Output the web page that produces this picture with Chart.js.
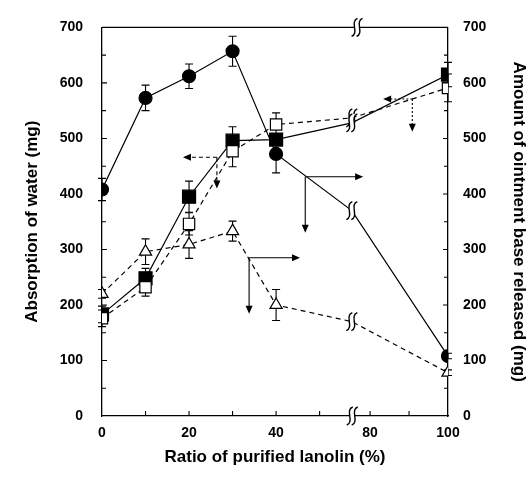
<!DOCTYPE html>
<html>
<head>
<meta charset="utf-8">
<script src="https://cdn.jsdelivr.net/npm/chart.js@4.4.0/dist/chart.umd.min.js"></script>
<style>
  html, body { margin: 0; padding: 0; background: #fff; }
</style>
</head>
<body>
<canvas id="myChart" width="529" height="483"></canvas>
<script>
// ratio of purified lanolin (%)
const pct = [0, 10, 20, 30, 40, 100];

// absorption of water (mg) - left axis
const filledSquare = [183, 248, 395, 496, 498, 615];
const filledSquareErr = [15, 18, 28, 25, 10, 22];
const openSquare = [176, 232, 346, 477, 525, 591];
const openSquareErr = [15, 16, 20, 28, 21, 25];

// amount of ointment base released (mg) - right axis
const filledCircle = [408, 573, 612, 657, 472, 108];
const filledCircleErr = [20, 23, 22, 27, 34, 5];
const openTriangle = [220, 296, 309, 333, 200, 78];
const openTriangleErr = [8, 23, 25, 18, 28, 5];

// where each line crosses the broken part of the x axis
const breakLevel = { circle: 370, filledSq: 528, openSq: 537, triangle: 170 };

const xTickPct = [0, 20, 40, 80, 100];
const xMinorPct = [10, 20, 30, 40, 50, 80, 90];
const yTicks = [0, 100, 200, 300, 400, 500, 600, 700];

// broken x axis: 0-50 linear, then 80-100 squeezed after the break
const axisOf80 = 61.6;
const axisMax = 79.5;
const breakAt = 57.4;
function toAxis(p) {
  return p <= 50 ? p : axisOf80 + (p - 80) * (axisMax - axisOf80) / 20;
}

function makePoints(values, errs, brk) {
  let pts = [];
  for (let i = 0; i < pct.length; i++) {
    if (pct[i] >= 80 && brk !== undefined) {
      pts.push({ x: breakAt, y: brk, brk: true });
      brk = undefined;
    }
    pts.push({ x: toAxis(pct[i]), y: values[i], err: errs[i] });
  }
  return pts;
}

const boldFont = (size) => ({ family: "'Liberation Sans', Arial, sans-serif", weight: "bold", size: size });

function squiggle(ctx, cx, cy) {
  const curve = (x, rev) => {
    if (!rev) {
      ctx.moveTo(x + 3, cy - 9);
      ctx.bezierCurveTo(x - 5, cy - 6, x + 5, cy + 6, x - 3, cy + 9);
    } else {
      ctx.lineTo(x - 3, cy + 9);
      ctx.bezierCurveTo(x + 5, cy + 6, x - 5, cy - 6, x + 3, cy - 9);
    }
  };
  ctx.save();
  ctx.fillStyle = "#fff";
  ctx.beginPath();
  curve(cx - 2.5, false);
  curve(cx + 2.5, true);
  ctx.closePath();
  ctx.fill();
  ctx.strokeStyle = "#000";
  ctx.lineWidth = 1.4;
  ctx.setLineDash([]);
  ctx.beginPath();
  curve(cx - 2.5, false);
  ctx.stroke();
  ctx.beginPath();
  curve(cx + 2.5, false);
  ctx.stroke();
  ctx.restore();
}

// annotation arrows: junction (x, y), horizontal arrow to hx, vertical arrow down to vy
const arrows = [
  { x: 26.4, y: 466, hx: 18.6, vy: 410, dash: [4, 3], axis: "y" },
  { x: 46.7, y: 431, hx: 60.0, vy: 330, dash: [], axis: "y2" },
  { x: 33.8, y: 285, hx: 45.5, vy: 184, dash: [], axis: "y2" },
  { x: 71.3, y: 571, hx: 64.6, vy: 512, dash: [2, 2], axis: "y" },
];

function arrowHead(ctx, x, y, dir) {
  ctx.beginPath();
  if (dir === "left") { ctx.moveTo(x, y); ctx.lineTo(x + 8, y - 3.5); ctx.lineTo(x + 8, y + 3.5); }
  if (dir === "right") { ctx.moveTo(x, y); ctx.lineTo(x - 8, y - 3.5); ctx.lineTo(x - 8, y + 3.5); }
  if (dir === "down") { ctx.moveTo(x, y); ctx.lineTo(x - 3.5, y - 8); ctx.lineTo(x + 3.5, y - 8); }
  ctx.closePath();
  ctx.fill();
}

const extras = {
  id: "extras",
  beforeDatasetsDraw(chart) {
    const ctx = chart.ctx;
    ctx.save();
    ctx.strokeStyle = "#000";
    ctx.lineWidth = 1.1;
    chart.data.datasets.forEach((ds, di) => {
      const meta = chart.getDatasetMeta(di);
      const ys = chart.scales[ds.yAxisID];
      meta.data.forEach((el, i) => {
        const raw = ds.data[i];
        if (raw.brk || !raw.err) return;
        const t = ys.getPixelForValue(raw.y + raw.err);
        const b = ys.getPixelForValue(raw.y - raw.err);
        ctx.beginPath();
        ctx.moveTo(el.x, t); ctx.lineTo(el.x, b);
        ctx.moveTo(el.x - 4, t); ctx.lineTo(el.x + 4, t);
        ctx.moveTo(el.x - 4, b); ctx.lineTo(el.x + 4, b);
        ctx.stroke();
      });
    });
    ctx.restore();
  },
  afterDatasetsDraw(chart) {
    const ctx = chart.ctx;
    const xs = chart.scales.x, yl = chart.scales.y;
    const area = chart.chartArea;
    ctx.save();
    ctx.strokeStyle = "#000";
    ctx.fillStyle = "#000";
    ctx.lineWidth = 1.3;
    // top frame line
    ctx.beginPath();
    ctx.moveTo(area.left, area.top); ctx.lineTo(area.right, area.top);
    ctx.stroke();
    // inward ticks
    ctx.lineWidth = 1.1;
    for (let v = 50; v < 700; v += 50) {
      const len = v % 100 === 0 ? 5 : 4;
      const py = yl.getPixelForValue(v);
      ctx.beginPath();
      ctx.moveTo(area.left, py); ctx.lineTo(area.left + len, py);
      ctx.moveTo(area.right, py); ctx.lineTo(area.right - len, py);
      ctx.stroke();
    }
    xMinorPct.forEach(p => {
      const px = xs.getPixelForValue(toAxis(p));
      ctx.beginPath();
      ctx.moveTo(px, area.bottom); ctx.lineTo(px, area.bottom - 5);
      ctx.stroke();
    });
    // arrows
    arrows.forEach(a => {
      const ys = chart.scales[a.axis];
      const jx = xs.getPixelForValue(a.x), jy = ys.getPixelForValue(a.y);
      const hx = xs.getPixelForValue(a.hx), vy = ys.getPixelForValue(a.vy);
      ctx.lineWidth = 1.1;
      ctx.setLineDash(a.dash);
      ctx.beginPath();
      ctx.moveTo(jx, jy); ctx.lineTo(hx + (hx < jx ? 6 : -6), jy);
      ctx.moveTo(jx, jy); ctx.lineTo(jx, vy - 6);
      ctx.stroke();
      ctx.setLineDash([]);
      arrowHead(ctx, hx, jy, hx < jx ? "left" : "right");
      arrowHead(ctx, jx, vy, "down");
    });
    ctx.restore();
    // breaks on the axes and on the lines
    squiggle(ctx, xs.getPixelForValue(57.5), area.bottom);
    squiggle(ctx, xs.getPixelForValue(58.6), area.top);
    chart.data.datasets.forEach((ds, di) => {
      const meta = chart.getDatasetMeta(di);
      meta.data.forEach((el, i) => {
        if (ds.data[i].brk) squiggle(ctx, el.x, el.y);
      });
    });
  }
};

function lineSet(label, pts, axis, style, radius, fill, dash) {
  return {
    label: label,
    data: pts,
    yAxisID: axis,
    showLine: true,
    borderColor: "#000",
    borderWidth: 1.2,
    borderDash: dash,
    pointStyle: style,
    pointRadius: (c) => (c.raw && c.raw.brk ? 0 : radius),
    pointBackgroundColor: fill,
    pointBorderColor: "#000",
    pointBorderWidth: 1.2,
    tension: 0,
  };
}

new Chart(document.getElementById("myChart"), {
  type: "scatter",
  data: {
    datasets: [
      lineSet("Circle", makePoints(filledCircle, filledCircleErr, breakLevel.circle), "y2", "circle", 6.5, "#000", []),
      lineSet("Triangle", makePoints(openTriangle, openTriangleErr, breakLevel.triangle), "y2", "triangle", 7, "#fff", [5, 4]),
      lineSet("Open square", makePoints(openSquare, openSquareErr, breakLevel.openSq), "y", "rect", 8, "#fff", [5, 4]),
      lineSet("Filled square", makePoints(filledSquare, filledSquareErr, breakLevel.filledSq), "y", "rect", 9.2, "#000", []),
    ],
  },
  options: {
    responsive: false,
    animation: false,
    layout: { padding: { top: 21, left: 0, right: 0, bottom: 0 } },
    plugins: { legend: { display: false }, tooltip: { enabled: false } },
    scales: {
      x: {
        type: "linear",
        min: 0,
        max: axisMax,
        afterFit(s) { s.height = 67; },
        afterBuildTicks(s) { s.ticks = xTickPct.map(p => ({ value: toAxis(p) })); },
        ticks: { callback: (v, i) => String(xTickPct[i]), font: boldFont(14), color: "#000", padding: 9, maxRotation: 0, autoSkip: false },
        grid: { display: true, drawOnChartArea: false, drawTicks: false },
        border: { color: "#000", width: 1.3 },
        title: { display: true, text: "Ratio of purified lanolin (%)", font: boldFont(17), color: "#000", padding: { top: 0, bottom: 15 } },
      },
      y: {
        position: "left",
        min: 0,
        max: 700,
        afterFit(s) { s.width = 102; },
        afterBuildTicks(s) { s.ticks = yTicks.map(v => ({ value: v })); },
        ticks: { font: boldFont(14), color: "#000", padding: 19 },
        grid: { display: true, drawOnChartArea: false, drawTicks: false },
        border: { color: "#000", width: 1.3 },
        title: { display: true, text: "Absorption of water (mg)", font: boldFont(17), color: "#000", padding: { top: 22, bottom: 0 } },
      },
      y2: {
        position: "right",
        min: 0,
        max: 700,
        afterFit(s) { s.width = 81; },
        afterBuildTicks(s) { s.ticks = yTicks.map(v => ({ value: v })); },
        ticks: { font: boldFont(14), color: "#000", padding: 15 },
        grid: { display: true, drawOnChartArea: false, drawTicks: false },
        border: { color: "#000", width: 1.3 },
        title: { display: true, text: "Amount of ointment base released (mg)", font: boldFont(17), color: "#000", padding: { top: 0, bottom: 0 } },
      },
    },
  },
  plugins: [extras],
});
</script>
</body>
</html>
